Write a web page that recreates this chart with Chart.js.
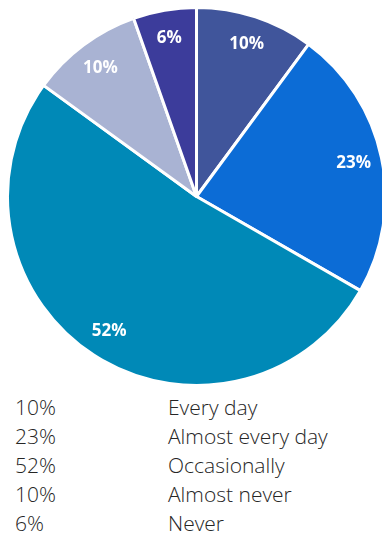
<!DOCTYPE html>
<html>
<head>
<meta charset="utf-8">
<script src="https://cdn.jsdelivr.net/npm/chart.js@4"></script>
<style>
  html, body { margin: 0; padding: 0; background: #fff; overflow: hidden; }
  body { width: 382px; height: 538px; position: relative; }
  #pieWrap { position: absolute; left: 5.5px; top: 6px; width: 381px; height: 381px; }
  #legend {
    position: absolute; left: 15px; top: 393px;
    font-family: "Open Sans", sans-serif; font-size: 21px; font-weight: 300;
    color: #262626; line-height: 29px;
  }
  .row { display: flex; }
  .row .pct { width: 153px; }
</style>
</head>
<body>
<div id="pieWrap"><canvas id="pie"></canvas></div>
<div id="legend"></div>
<script>
const categories = ['Every day', 'Almost every day', 'Occasionally', 'Almost never', 'Never'];
// slice shares
const shares = [10.1, 23.2, 51.7, 9.6, 5.4];
// percentages as printed
const pctLabels = ['10%', '23%', '52%', '10%', '6%'];
const colors = ['#40559b', '#0c6cd6', '#0089b7', '#a9b3d3', '#3c3c9b'];

const sliceLabels = {
    id: 'sliceLabels',
    afterDatasetsDraw(chart) {
        const c = chart.ctx;
        const meta = chart.getDatasetMeta(0);
        c.save();
        c.fillStyle = '#ffffff';
        c.font = 'bold 17px "Open Sans", sans-serif';
        c.textAlign = 'center';
        c.textBaseline = 'middle';
        meta.data.forEach((arc, i) => {
            const p = arc.getProps(['x', 'y', 'startAngle', 'endAngle', 'outerRadius'], true);
            const mid = (p.startAngle + p.endAngle) / 2;
            const r = p.outerRadius * 0.85;
            c.fillText(pctLabels[i], p.x + Math.cos(mid) * r, p.y + Math.sin(mid) * r);
        });
        c.restore();
    }
};

new Chart(document.getElementById('pie'), {
    type: 'pie',
    data: {
        labels: categories,
        datasets: [{
            data: shares,
            backgroundColor: colors,
            borderColor: '#ffffff',
            borderWidth: 3
        }]
    },
    options: {
        responsive: true,
        maintainAspectRatio: false,
        animation: false,
        layout: { padding: 0 },
        plugins: {
            legend: { display: false },
            tooltip: { enabled: false }
        }
    },
    plugins: [sliceLabels]
});

const legend = document.getElementById('legend');
categories.forEach((name, i) => {
    const row = document.createElement('div');
    row.className = 'row';
    row.innerHTML = `<span class="pct">${pctLabels[i]}</span><span>${name}</span>`;
    legend.appendChild(row);
});
</script>
</body>
</html>
